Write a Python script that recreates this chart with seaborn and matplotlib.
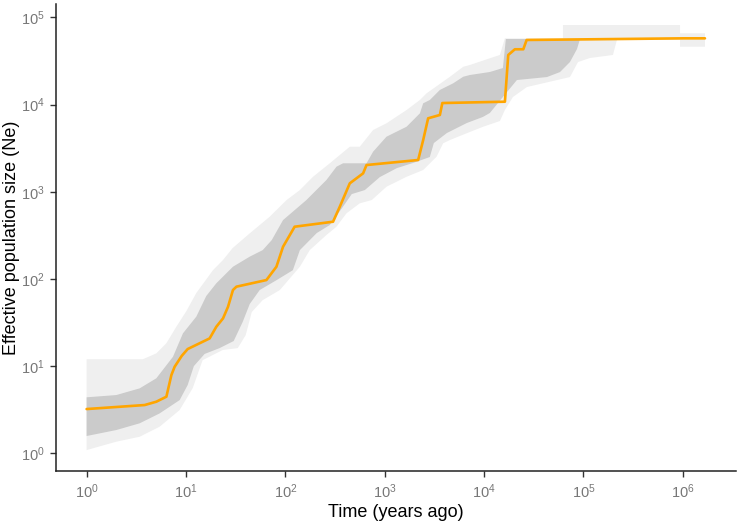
import numpy as np
import pandas as pd
import matplotlib
matplotlib.use("Agg")
import matplotlib.pyplot as plt
from matplotlib.ticker import FixedLocator, NullLocator, LogFormatterSciNotation
import seaborn as sns

# median Ne trajectory (years ago, Ne)
time_median = [1, 3.84, 5.03, 6.35, 7.13, 7.69, 9.06, 10.4, 17.3, 20.2, 23.6, 26.5,
               29.7, 32.2, 64.5, 81.3, 94.8, 111, 124, 302, 353, 445, 606, 656,
               2170, 2438, 2735, 3590, 3800, 16200, 17500, 20400, 24800, 26800,
               1.01e6, 1.67e6]
ne_median = [3.22, 3.58, 3.91, 4.46, 7.9, 9.84, 13.1, 15.7, 20.8, 28.3, 35.3, 48,
             74.6, 81.5, 97.1, 138, 234, 319, 397, 453, 673, 1248, 1625, 2024,
             2311, 3917, 6950, 7590, 10400, 10770, 37000, 43000, 43000, 55000,
             57400, 57400]

# outer (light) interval
outer_up_t = [1, 3.69, 5.03, 6.35, 8.0, 10.1, 12.7, 18.7, 23.6, 29.5, 43.8, 69.6,
              103, 140, 190, 280, 445, 561, 764, 1042, 1660, 2260, 2636, 4530,
              6170, 7200, 11430, 14420, 16180, 62200, 62200, 937000, 937000, 1.67e6]
outer_up_ne = [12.0, 12.0, 14.0, 18.3, 28.3, 42.8, 68.9, 126, 165, 226, 333, 517,
               803, 1045, 1485, 2118, 3280, 3280, 5100, 6090, 8650, 11270, 13440,
               20800, 27100, 28400, 33900, 37000, 57400, 57400, 81500, 81500,
               65600, 65600]
outer_lo_t = [1, 1.99, 3.42, 5.43, 8.64, 11.7, 14.7, 23.4, 33.2, 39.9, 45.9, 59.2,
              87.9, 140, 176, 259, 327, 412, 561, 741, 1042, 1660, 2438, 3325,
              3870, 4530, 6660, 9790, 14420, 16180, 19500, 27000, 73100, 88100,
              116000, 198000, 217000, 937000, 937000, 1.67e6]
outer_lo_ne = [1.09, 1.36, 1.55, 2.02, 3.14, 5.61, 11.7, 15.3, 16.1, 22.7, 41.7,
               57.2, 74.5, 138, 214, 319, 397, 565, 736, 803, 1141, 1485, 1774,
               2519, 3590, 3917, 4677, 5565, 6470, 8650, 12190, 15880, 20650,
               30700, 34150, 37000, 55000, 55000, 46000, 46000]

# inner (dark) interval
inner_up_t = [1, 1.99, 3.42, 5.03, 7.40, 9.33, 12.7, 16.0, 20.2, 29.7, 43.8, 59.2,
              73.0, 94.8, 163, 259, 327, 381, 656, 764, 1042, 1660, 2260, 2438,
              2844, 3590, 4886, 6170, 7200, 11430, 15460, 16560, 92300]
inner_up_ne = [4.39, 4.66, 5.56, 7.25, 12.8, 23.8, 36.9, 63.7, 89.1, 138, 180, 214,
               279, 473, 803, 1361, 1936, 2118, 2118, 2877, 4276, 5565, 7925,
               10320, 11270, 14690, 17500, 20830, 21800, 23600, 26200, 56400, 56400]
inner_lo_t = [1, 1.99, 3.42, 5.43, 8.64, 10.4, 12.0, 15.4, 21.8, 30.2, 37.2, 43.8,
              55.2, 81.9, 119, 140, 207, 280, 378, 466, 631, 893, 1324, 1919,
              2844, 3120, 4220, 6710, 9720, 11430, 15460, 21400, 42900, 58000,
              73100, 86100, 92300]
inner_lo_ne = [1.58, 1.85, 2.21, 2.87, 4.08, 6.07, 10.0, 13.8, 16.1, 19.4, 32.1,
               51.5, 74.6, 97.1, 126, 214, 336, 415, 667, 940, 1045, 1472, 1866,
               2133, 2500, 3614, 4710, 6140, 7200, 8000, 12190, 19100, 20650,
               23550, 30700, 43300, 56400]

x_ticks = [1, 10, 100, 1e3, 1e4, 1e5, 1e6]
y_ticks = [1, 10, 100, 1e3, 1e4, 1e5]

sns.set_style("ticks")
plt.rcParams['font.family'] = ['Liberation Sans', 'DejaVu Sans']
plt.rcParams['mathtext.fontset'] = 'custom'
plt.rcParams['mathtext.rm'] = 'Liberation Sans'

fig = plt.figure(figsize=(7.4, 5.23), dpi=100)
ax = fig.add_axes([55.7/740, 1-471.3/523, (736-55.7)/740, (471.3-3.8)/523])

# bands: polygon = upper edge + reversed lower edge
ax.fill(outer_up_t + outer_lo_t[::-1], outer_up_ne + outer_lo_ne[::-1],
        color='#efefef', lw=0, zorder=1)
ax.fill(inner_up_t + inner_lo_t[::-1], inner_up_ne + inner_lo_ne[::-1],
        color='#cbcbcb', lw=0, zorder=2)

med = pd.DataFrame({'time': time_median, 'ne': ne_median})
sns.lineplot(data=med, x='time', y='ne', color='#FFA500', linewidth=1.9,
             estimator=None, sort=False, ax=ax, zorder=3)

ax.set_xscale('log')
ax.set_yscale('log')
ax.set_xlim(10**-0.311, 10**6.535)
ax.set_ylim(10**-0.206, 10**5.155)
ax.xaxis.set_major_locator(FixedLocator(x_ticks))
ax.yaxis.set_major_locator(FixedLocator(y_ticks))
ax.xaxis.set_major_formatter(LogFormatterSciNotation())
ax.yaxis.set_major_formatter(LogFormatterSciNotation())
ax.xaxis.set_minor_locator(NullLocator())
ax.yaxis.set_minor_locator(NullLocator())

ax.set_xlabel('Time (years ago)', fontsize=13, color='black', labelpad=2)
ax.set_ylabel('Effective population size (Ne)', fontsize=13, color='black', labelpad=0.5)
ax.tick_params(axis='both', labelsize=10.5, labelcolor='#777777', color='#333333',
               length=4, width=1.0, pad=4)
sns.despine(ax=ax)
for s in ['left', 'bottom']:
    ax.spines[s].set_linewidth(1.1)
    ax.spines[s].set_color('#222222')

fig.savefig('out.png', dpi=100)
